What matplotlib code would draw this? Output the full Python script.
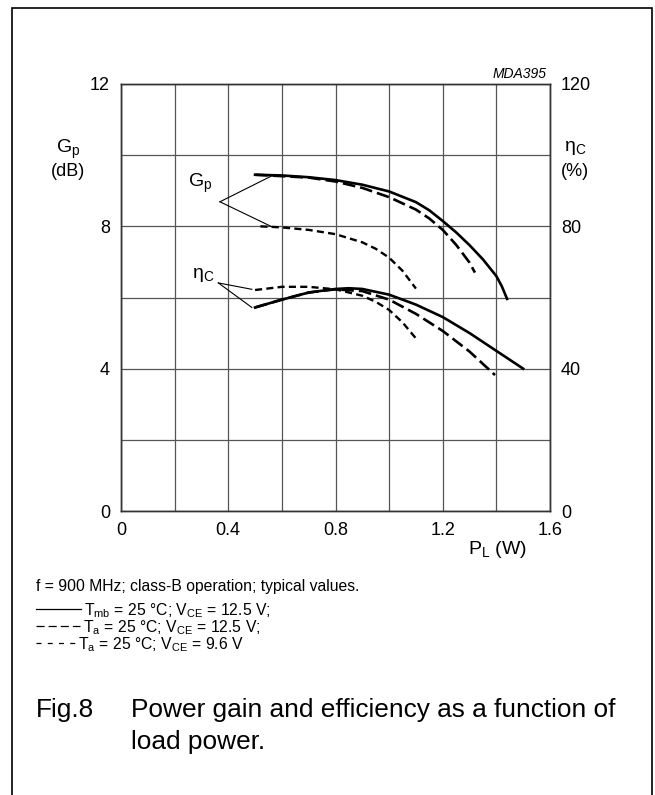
#!/usr/bin/env python3

"""
Fig.8 - power gain and efficiency vs load power
"""

import matplotlib
matplotlib.use("Agg")
import matplotlib.pyplot as plt
from matplotlib.lines import Line2D
from matplotlib.patches import Rectangle

plt.rcParams["font.family"] = ["Liberation Sans", "DejaVu Sans"]
plt.rcParams["mathtext.fontset"] = "custom"
plt.rcParams["mathtext.rm"] = "Liberation Sans"
plt.rcParams["mathtext.it"] = "Liberation Sans:italic"

# Gp (dB), Tmb = 25 C, VCE = 12.5 V
pl_gp_mb = [0.5, 0.6, 0.7, 0.8, 0.9, 1.0, 1.1, 1.15, 1.2, 1.25, 1.3, 1.35, 1.4, 1.42, 1.44]
gp_mb = [9.45, 9.43, 9.38, 9.3, 9.17, 8.98, 8.68, 8.45, 8.15, 7.83, 7.47, 7.07, 6.6, 6.32, 5.96]

# Gp (dB), Ta = 25 C, VCE = 12.5 V
pl_gp_a = [0.5, 0.7, 0.8, 0.9, 1.0, 1.1, 1.15, 1.2, 1.25, 1.3, 1.32]
gp_a = [9.45, 9.37, 9.26, 9.08, 8.82, 8.47, 8.22, 7.9, 7.48, 6.98, 6.7]

# Gp (dB), Ta = 25 C, VCE = 9.6 V
pl_gp_96 = [0.52, 0.6, 0.7, 0.8, 0.9, 0.95, 1.0, 1.05, 1.1]
gp_96 = [8.0, 7.97, 7.9, 7.78, 7.55, 7.37, 7.12, 6.75, 6.25]

# efficiency (%), same three conditions
pl_eta_mb = [0.5, 0.6, 0.7, 0.8, 0.85, 0.9, 1.0, 1.1, 1.2, 1.3, 1.4, 1.5]
eta_mb = [57.2, 59.4, 61.4, 62.4, 62.6, 62.4, 60.8, 58.0, 54.5, 50.0, 45.0, 40.0]

pl_eta_a = [0.5, 0.6, 0.7, 0.8, 0.9, 1.0, 1.1, 1.2, 1.3, 1.395]
eta_a = [57.2, 59.4, 61.4, 62.3, 61.8, 59.4, 55.4, 50.6, 44.8, 38.2]

pl_eta_96 = [0.5, 0.6, 0.7, 0.8, 0.9, 0.95, 1.0, 1.05, 1.1]
eta_96 = [62.1, 63.0, 63.0, 62.3, 60.5, 58.8, 56.5, 53.0, 48.5]

x_ticks = ["0", "", "0.4", "", "0.8", "", "1.2", "", "1.6"]
gp_ticks = ["0", "", "4", "", "8", "", "12"]
eta_ticks = [0, 40, 80, 120]

W, H = 655, 795
fig = plt.figure(figsize=(W / 100, H / 100), dpi=100)

# outer frame
fig.patches.append(Rectangle((11.5 / W, -0.01), 640 / W, 1 - 7.5 / H + 0.01,
                             transform=fig.transFigure, fill=False,
                             edgecolor="black", linewidth=1.2))

ax = fig.add_axes([121 / W, 1 - 511 / H, 429 / W, 427 / H])
ax2 = ax.twinx()

solid = dict(color="black", linewidth=1.9, linestyle="-")
long_dash = dict(color="black", linewidth=1.9, linestyle=(0, (4.8, 1.9)))
short_dash = dict(color="black", linewidth=1.7, linestyle=(0, (3.0, 1.8)))

ax.plot(pl_gp_mb, gp_mb, **solid)
ax.plot(pl_gp_a, gp_a, **long_dash)
ax.plot(pl_gp_96, gp_96, **short_dash)
ax2.plot(pl_eta_mb, eta_mb, **solid)
ax2.plot(pl_eta_a, eta_a, **long_dash)
ax2.plot(pl_eta_96, eta_96, **short_dash)

ax.set_xlim(0, 1.6)
ax.set_ylim(0, 12)
ax2.set_ylim(0, 120)
ax.set_xticks([i * 0.2 for i in range(9)])
ax.set_yticks(range(0, 13, 2))
ax.grid(True, color="#555555", linewidth=0.9)
ax.tick_params(length=0, labelsize=13, pad=8)
ax.set_xticklabels(x_ticks)
ax.set_yticklabels(gp_ticks)
ax2.set_yticks(eta_ticks)
ax2.tick_params(length=0, labelsize=13, pad=8)
ax2.set_yticklabels([str(v) for v in eta_ticks])
for a in (ax, ax2):
    for s in a.spines.values():
        s.set_linewidth(1.0)
        s.set_color("#333333")

# axis titles
fig.text(68 / W, 1 - 149 / H, r"$\mathregular{G_p}$", ha="center", va="center", fontsize=14)
fig.text(68 / W, 1 - 171 / H, "(dB)", ha="center", va="center", fontsize=13)
fig.text(575 / W, 1 - 148 / H, r"$\mathregular{\eta_C}$", ha="center", va="center", fontsize=14)
fig.text(575 / W, 1 - 171 / H, "(%)", ha="center", va="center", fontsize=13)
fig.text(497 / W, 1 - 550 / H, r"$\mathregular{P_L}$ (W)", ha="center", va="center", fontsize=14)
fig.text(547 / W, 1 - 74 / H, "MDA395", ha="right", va="center", fontsize=10, style="italic")

# curve labels with leader lines
ax.text(0.295, 9.2, r"$\mathregular{G_p}$", ha="center", va="center", fontsize=14)
ax.plot([0.369, 0.568], [8.69, 9.44], color="black", linewidth=0.8)
ax.plot([0.369, 0.562], [8.69, 7.99], color="black", linewidth=0.8)
ax2.text(0.305, 66.3, r"$\mathregular{\eta_C}$", ha="center", va="center", fontsize=14)
ax2.plot([0.363, 0.488], [64.1, 62.3], color="black", linewidth=0.8)
ax2.plot([0.363, 0.488], [64.1, 57.2], color="black", linewidth=0.8)

# notes
fig.text(36 / W, 1 - 586 / H, "f = 900 MHz; class-B operation; typical values.",
         ha="left", va="center", fontsize=11.3)
notes = [r"$\mathregular{T_{mb}}$ = 25 °C; $\mathregular{V_{CE}}$ = 12.5 V;",
         r"$\mathregular{T_a}$ = 25 °C; $\mathregular{V_{CE}}$ = 12.5 V;",
         r"$\mathregular{T_a}$ = 25 °C; $\mathregular{V_{CE}}$ = 9.6 V"]
styles = ["-", (0, (6.5, 3.2)), (0, (4, 5))]
note_y = [611, 628, 645]
note_x1 = [81, 80, 75]
for txt, ls, yy, x1 in zip(notes, styles, note_y, note_x1):
    fig.add_artist(Line2D([36 / W, x1 / W], [1 - (yy - 2) / H, 1 - (yy - 2) / H],
                          transform=fig.transFigure, color="black",
                          linewidth=0.9, linestyle=ls))
    fig.text((x1 + 3) / W, 1 - yy / H, txt, ha="left", va="center", fontsize=11.3)

fig.text(36 / W, 1 - 710 / H, "Fig.8", ha="left", va="center", fontsize=18.9)
fig.text(131 / W, 1 - 710 / H, "Power gain and efficiency as a function of",
         ha="left", va="center", fontsize=18.9)
fig.text(131 / W, 1 - 742 / H, "load power.", ha="left", va="center", fontsize=18.9)

fig.savefig("out.png", dpi=100)
